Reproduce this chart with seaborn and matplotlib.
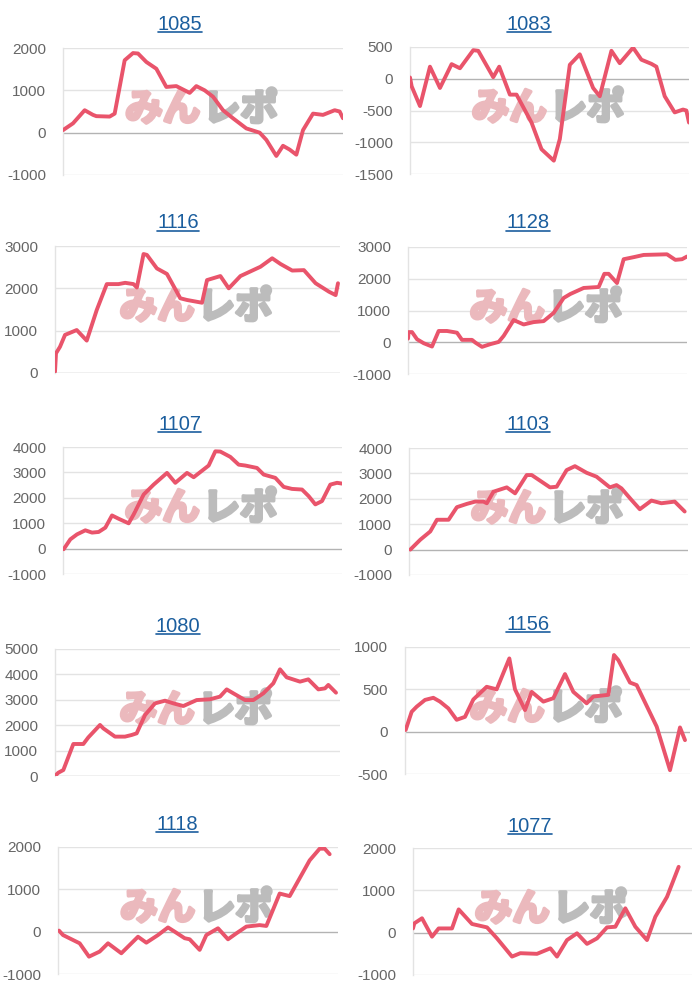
import numpy as np
import pandas as pd
import seaborn as sns
import matplotlib.pyplot as plt
import matplotlib.patheffects as pe
from matplotlib.lines import Line2D
from matplotlib.transforms import IdentityTransform

sns.set_theme(style="white")
plt.rcParams['font.family'] = ['Liberation Sans', 'Noto Sans CJK JP', 'DejaVu Sans']

# ---------------- data ----------------
titles = ["1085", "1083", "1116", "1128", "1107", "1103", "1080", "1156", "1118", "1077"]

spans = [840, 838, 853, 837, 837, 839, 855, 855, 840, 837]

t1085 = [0, 30, 65, 90, 100, 140, 155, 185, 210, 225, 250, 280, 310, 340, 380, 400, 425, 450, 480, 510, 550, 590, 610, 640, 660, 680, 700, 720, 750, 780, 815, 830, 840]
v1085 = [60, 220, 530, 420, 390, 380, 450, 1710, 1880, 1870, 1670, 1510, 1080, 1100, 940, 1100, 1000, 850, 530, 340, 100, 0, -170, -550, -310, -400, -520, 60, 450, 420, 530, 500, 340]

t1083 = [0, 5, 30, 60, 90, 125, 150, 190, 205, 250, 268, 300, 320, 365, 395, 432, 450, 480, 510, 550, 570, 605, 630, 670, 695, 725, 740, 765, 795, 820, 830, 838]
v1083 = [20, -120, -430, 190, -145, 230, 165, 450, 440, 25, 190, -250, -250, -690, -1110, -1290, -950, 220, 385, -145, -275, 440, 245, 490, 300, 235, 190, -275, -530, -485, -500, -690]

t1116 = [0, 3, 15, 30, 65, 95, 125, 155, 190, 210, 235, 245, 265, 275, 305, 335, 375, 395, 440, 455, 495, 520, 555, 615, 650, 675, 710, 745, 780, 820, 840, 847]
v1116 = [30, 465, 620, 900, 1015, 765, 1490, 2100, 2100, 2130, 2100, 2020, 2810, 2790, 2470, 2340, 1765, 1725, 1660, 2195, 2290, 2000, 2290, 2510, 2710, 2575, 2420, 2430, 2120, 1920, 1840, 2120]

t1128 = [0, 2, 12, 27, 47, 72, 92, 117, 137, 147, 162, 192, 202, 222, 247, 272, 287, 317, 347, 377, 407, 437, 467, 487, 527, 572, 589, 602, 627, 647, 677, 707, 777, 802, 822, 837]
v1128 = [115, 320, 320, 95, -30, -135, 355, 355, 320, 300, 75, 75, -10, -145, -60, 10, 200, 700, 560, 635, 665, 925, 1395, 1520, 1710, 1740, 2155, 2155, 1865, 2615, 2680, 2750, 2770, 2595, 2615, 2700]

t1107 = [2, 22, 42, 67, 87, 107, 127, 147, 167, 197, 212, 242, 272, 312, 337, 372, 392, 437, 457, 472, 502, 527, 547, 582, 602, 637, 662, 687, 717, 737, 757, 777, 802, 822, 837]
v1107 = [-25, 365, 560, 720, 630, 655, 825, 1305, 1175, 995, 1345, 2130, 2520, 2980, 2590, 2980, 2810, 3270, 3830, 3820, 3610, 3305, 3270, 3175, 2915, 2785, 2430, 2350, 2325, 2065, 1740, 1870, 2520, 2590, 2560]

t1103 = [4, 34, 64, 84, 119, 144, 174, 199, 224, 234, 254, 294, 319, 354, 369, 424, 444, 474, 499, 534, 564, 604, 624, 639, 669, 694, 729, 759, 799, 829]
v1103 = [0, 390, 715, 1175, 1175, 1670, 1800, 1890, 1890, 1825, 2280, 2450, 2215, 2935, 2935, 2450, 2475, 3130, 3285, 3025, 2870, 2450, 2540, 2410, 1955, 1590, 1930, 1825, 1890, 1500]

t1080 = [3, 10, 25, 55, 85, 100, 135, 145, 180, 210, 230, 245, 270, 300, 330, 355, 385, 425, 465, 495, 515, 535, 570, 595, 625, 655, 675, 695, 735, 760, 790, 810, 820, 843]
v1080 = [40, 130, 235, 1260, 1260, 1520, 2010, 1875, 1550, 1550, 1615, 1680, 2400, 2860, 2965, 2860, 2755, 2990, 3020, 3125, 3410, 3255, 2990, 2990, 3255, 3650, 4200, 3885, 3715, 3805, 3410, 3450, 3585, 3280]

t1156 = [2, 20, 35, 60, 85, 105, 130, 155, 180, 205, 245, 275, 313, 330, 360, 380, 415, 445, 480, 505, 545, 565, 610, 627, 640, 675, 695, 755, 795, 825, 840]
v1156 = [20, 235, 295, 375, 400, 355, 275, 140, 175, 380, 530, 500, 865, 500, 255, 470, 355, 395, 680, 470, 335, 415, 435, 905, 845, 580, 550, 60, -455, 50, -100]

t1118 = [3, 15, 65, 93, 125, 150, 190, 240, 265, 300, 330, 350, 380, 395, 425, 445, 480, 510, 535, 565, 605, 625, 665, 695, 755, 785, 800, 815]
v1118 = [25, -80, -275, -590, -470, -275, -510, -120, -260, -80, 100, 0, -155, -180, -430, -80, 80, -180, -40, 120, 155, 135, 900, 840, 1685, 1960, 1960, 1830]

t1077 = [0, 4, 27, 57, 77, 117, 137, 177, 222, 252, 297, 322, 372, 412, 432, 462, 492, 522, 552, 582, 607, 637, 667, 702, 727, 762, 797]
v1077 = [100, 220, 340, -95, 100, 100, 550, 205, 125, -135, -565, -485, -500, -370, -565, -175, -15, -265, -135, 125, 140, 575, 140, -175, 375, 845, 1555]

series_t = [t1085, t1083, t1116, t1128, t1107, t1103, t1080, t1156, t1118, t1077]
series_v = [v1085, v1083, v1116, v1128, v1107, v1103, v1080, v1156, v1118, v1077]

yticks = [
    [-1000, 0, 1000, 2000],
    [-1500, -1000, -500, 0, 500],
    [0, 1000, 2000, 3000],
    [-1000, 0, 1000, 2000, 3000],
    [-1000, 0, 1000, 2000, 3000, 4000],
    [-1000, 0, 1000, 2000, 3000, 4000],
    [0, 1000, 2000, 3000, 4000, 5000],
    [-500, 0, 500, 1000],
    [-1000, 0, 1000, 2000],
    [-1000, 0, 1000, 2000],
]

# ---------------- layout (pixels) ----------------
W, H = 700, 1000
boxes = [
    (63, 343, 48, 175), (410, 689, 47, 174),
    (55, 340, 246, 373), (408, 687, 247, 374),
    (63, 342, 447, 574), (409, 688, 448, 575),
    (55, 340, 649, 776), (405, 690, 647, 774),
    (58, 338, 847, 974), (413, 692, 848, 975),
]
title_pos = [(180, 24), (529, 24), (178, 223), (528, 223), (180, 424), (528, 424),
             (178, 626), (528, 624), (177, 824), (530, 826)]

LINE = "#e9546b"
GRID = "#e3e3e3"
BASE = "#b3b3b3"
TICK = "#666666"
TITLE = "#1b5e9e"
WM_PINK = "#ebb9bd"
WM_GRAY = "#bcbcbc"

fig = plt.figure(figsize=(W / 100, H / 100), dpi=100)
fig.patch.set_facecolor("white")

title_texts = []
for i in range(10):
    L, R, T, B = boxes[i]
    ax = fig.add_axes([L / W, (H - B) / H, (R - L) / W, (B - T) / H])
    ax.set_facecolor("white")
    yt = yticks[i]
    ax.set_ylim(yt[0], yt[-1])
    ax.set_xlim(0, spans[i])
    ax.set_yticks(yt)
    ax.set_yticklabels([str(v) for v in yt])
    ax.set_xticks([])
    for y in yt:
        ax.axhline(y, color=BASE if y == 0 else GRID, lw=1.0, zorder=0.5)
    for s in ["top", "right", "bottom"]:
        ax.spines[s].set_visible(False)
    ax.spines["left"].set_color(GRID)
    ax.spines["left"].set_linewidth(1.0)
    ax.tick_params(axis="y", length=12, width=1, color=GRID, pad=0,
                   labelsize=11, labelcolor=TICK)

    # watermark
    ax.text(0.49, 0.52, "みん", transform=ax.transAxes, ha="right", va="center",
            fontsize=27, fontweight="bold", color=WM_PINK,
            family=["Noto Sans CJK JP", "DejaVu Sans"], zorder=1,
            path_effects=[pe.withStroke(linewidth=2.5, foreground=WM_PINK)])
    ax.text(0.50, 0.52, "レポ", transform=ax.transAxes, ha="left", va="center",
            fontsize=27, fontweight="bold", color=WM_GRAY,
            family=["Noto Sans CJK JP", "DejaVu Sans"], zorder=1,
            path_effects=[pe.withStroke(linewidth=2.5, foreground=WM_GRAY)])

    df = pd.DataFrame({"t": series_t[i], "v": series_v[i]})
    sns.lineplot(data=df, x="t", y="v", ax=ax, color=LINE, linewidth=2.8,
                 estimator=None, sort=False, zorder=3)
    ax.set_xlabel("")
    ax.set_ylabel("")

    tx, ty = title_pos[i]
    tt = fig.text(tx / W, (H - ty) / H, titles[i], ha="center", va="center",
                  fontsize=14.5, color=TITLE)
    title_texts.append(tt)

# underline titles like links
fig.canvas.draw()
renderer = fig.canvas.get_renderer()
for tt in title_texts:
    bb = tt.get_window_extent(renderer)
    yline = bb.y0 + 1.5
    fig.add_artist(Line2D([bb.x0, bb.x1], [yline, yline], transform=IdentityTransform(),
                          color=TITLE, lw=1.2))

fig.savefig("out.png", dpi=100, facecolor="white")
